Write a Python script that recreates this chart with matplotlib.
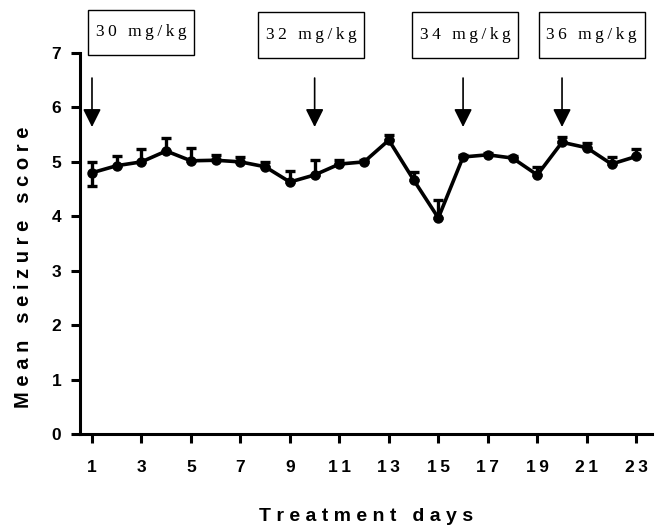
import matplotlib
matplotlib.use('Agg')
import numpy as np
from matplotlib import pyplot as plt
from matplotlib.patches import Rectangle

days = np.arange(1, 24)
means = [4.80, 4.93, 5.00, 5.20, 5.02, 5.03, 5.00, 4.91, 4.63, 4.76, 4.96, 5.00,
         5.40, 4.67, 3.97, 5.09, 5.13, 5.07, 4.76, 5.36, 5.26, 4.96, 5.10]
err_up = [0.20, 0.18, 0.24, 0.24, 0.24, 0.09, 0.09, 0.09, 0.21, 0.28, 0.07, 0.04,
          0.10, 0.14, 0.33, 0.04, 0.04, 0.04, 0.15, 0.10, 0.09, 0.13, 0.13]
err_down = [0.24] + [0.0] * 22
dose_days = [1, 10, 16, 20]
dose_labels = ['30 mg/kg', '32 mg/kg', '34 mg/kg', '36 mg/kg']
label_x = [2.98, 9.86, 16.08, 21.2]
label_y = [7.38, 7.33, 7.33, 7.33]
xticks = list(range(1, 24, 2))
yticks = list(range(0, 8))

SANS = ['Liberation Sans', 'DejaVu Sans']
SERIF = ['Liberation Serif', 'DejaVu Serif']


def spaced(s, sep='\u2009'):
    return sep.join(s)


fig = plt.figure(figsize=(6.6, 5.3), dpi=100)
ax = fig.add_axes([0.1212, 0.181, 0.8668, 0.719])

ax.errorbar(days, means, yerr=[err_down, err_up], color='black', lw=2.6,
            marker='o', ms=6.5, capsize=3.5, capthick=2.4, elinewidth=2.4)

# dose boxes and arrows
bw, bh = 4.29, 0.83
for d, lab, lx, ly in zip(dose_days, dose_labels, label_x, label_y):
    ax.annotate('', xy=(d, 5.64), xytext=(d, 6.54),
                arrowprops=dict(arrowstyle='-|>,head_length=1.1,head_width=0.55',
                                color='black', lw=1.2, mutation_scale=10,
                                shrinkA=0, shrinkB=0),
                annotation_clip=False)
    ax.add_patch(Rectangle((lx - bw / 2, ly - bh / 2), bw, bh, fc='white',
                           ec='black', lw=1.0, clip_on=False))
    ax.text(lx, ly, spaced(lab), ha='center', va='center', fontsize=12.5,
            family=SERIF, clip_on=False)

ax.set_xlim(0.515, 23.64)
ax.set_ylim(0, 7)
ax.set_xticks(xticks)
ax.set_xticklabels([spaced(str(t)) for t in xticks])
ax.set_yticks(yticks)
ax.set_yticklabels([str(t) for t in yticks])

for s in ['top', 'right']:
    ax.spines[s].set_visible(False)
for s in ['left', 'bottom']:
    ax.spines[s].set_linewidth(2.2)
ax.tick_params(width=2.2, length=6.5, labelsize=12.5, pad=7)
ax.tick_params(axis='x', pad=12)
for lab in ax.get_xticklabels() + ax.get_yticklabels():
    lab.set_family(SANS)
    lab.set_fontweight('bold')

ax.set_xlabel(spaced('Treatment days', ' '), fontsize=14, fontweight='bold',
              family=SANS, labelpad=24)
ax.set_ylabel(spaced('Mean seizure score', ' '), fontsize=14.5, fontweight='bold',
              family=SANS)
ax.yaxis.set_label_coords(-0.082, 0.438)

fig.savefig('out.png', dpi=100)
